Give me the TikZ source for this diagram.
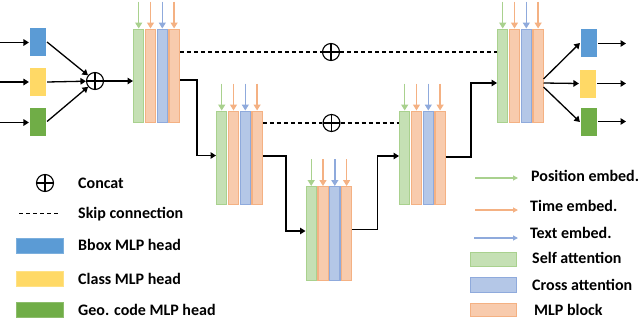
\documentclass[tikz,border=0pt]{standalone}
\usepackage{fontspec}
\setmainfont{Carlito}
\usetikzlibrary{arrows.meta,calc}
\definecolor{gfill}{HTML}{C5E0B4}
\definecolor{gline}{HTML}{A9D18E}
\definecolor{ofill}{HTML}{F8CBAD}
\definecolor{oline}{HTML}{F4B183}
\definecolor{bfill}{HTML}{B4C7E7}
\definecolor{bline}{HTML}{8FAADC}
\definecolor{hblue}{HTML}{5B9BD5}
\definecolor{hyellow}{HTML}{FFD966}
\definecolor{hgreen}{HTML}{70AD47}
\tikzset{
  strip/.style={draw, line width=1.2pt, minimum width=10.2pt, minimum height=93.5pt, inner sep=0pt, anchor=north west},
  emb/.style={line width=1.4pt, -{Triangle[length=6pt,width=7pt]}},
  flow/.style={line width=1.3pt, -{Triangle[length=5.5pt,width=6.5pt]}},
  skipline/.style={line width=1.2pt, dash pattern=on 4pt off 3pt},
  oplus/.style={circle, draw, line width=1.1pt, minimum size=17pt, inner sep=0pt,
    path picture={\draw[line width=1.1pt] (path picture bounding box.north) -- (path picture bounding box.south)
      (path picture bounding box.west) -- (path picture bounding box.east);}},
  headbox/.style={minimum width=17.5pt, minimum height=29pt, inner sep=0pt, draw=white, line width=0.6pt},
  legrect/.style={minimum width=47pt, minimum height=15pt, inner sep=0pt, line width=1pt, anchor=west},
  lab/.style={anchor=west, inner sep=0pt, font=\fontsize{16}{18}\selectfont\bfseries},
}
\newcommand{\tblock}[3]{%
  \node[strip, fill=gfill, draw=gline] (#1g) at (#2,#3) {};
  \node[strip, fill=ofill, draw=oline] (#1o) at (#2+11.8,#3) {};
  \node[strip, fill=bfill, draw=bline] (#1b) at (#2+23.6,#3) {};
  \node[strip, fill=ofill, draw=oline] (#1m) at (#2+35.4,#3) {};
  \draw[emb, gline] ($(#1g.north)+(0,-27)$) -- (#1g.north);
  \draw[emb, oline] ($(#1o.north)+(0,-27)$) -- (#1o.north);
  \draw[emb, bline] ($(#1b.north)+(0,-27)$) -- (#1b.north);
  \draw[emb, oline] ($(#1m.north)+(0,-27)$) -- (#1m.north);
}
\begin{document}
\begin{tikzpicture}[x=1pt,y=-1pt]
\useasboundingbox (0,0) rectangle (640,319);
% transformer blocks
\tblock{ba}{133}{28.5}
\tblock{bb}{216}{110.5}
\tblock{bc}{305.5}{186}
\tblock{bd}{399}{110.5}
\tblock{be}{497}{28.5}
% input heads
\node[headbox, fill=hblue] (in1) at (38,42) {};
\node[headbox, fill=hyellow] (in2) at (38,82) {};
\node[headbox, fill=hgreen] (in3) at (38,121.5) {};
\coordinate (s1) at (0,42.5);
\coordinate (s2) at (0,82);
\coordinate (s3) at (0,122.5);
\draw[flow] (s1) -- (in1.west |- s1);
\draw[flow] (s2) -- (in2.west |- s2);
\draw[flow] (s3) -- (in3.west |- s3);
\node[oplus] (cat) at (95,81) {};
\draw[flow] (in1.east) -- (cat);
\draw[flow] (in2.east) -- (cat);
\draw[flow] (in3.east) -- (cat);
\draw[flow] (cat.east) -- (cat.east -| bag.west);
% down/up path
\coordinate (c1) at (197,80);
\coordinate (c2) at (197,155.5);
\draw[flow] (bam.east |- c1) -- (c1) -- (c2) -- (c2 -| bbg.west);
\coordinate (c3) at (286,156);
\coordinate (c4) at (286,231);
\draw[flow] (bbm.east |- c3) -- (c3) -- (c4) -- (c4 -| bcg.west);
\coordinate (c5) at (377.5,229.5);
\coordinate (c6) at (377.5,156);
\draw[flow] (bcm.east |- c5) -- (c5) -- (c6) -- (c6 -| bdg.west);
\coordinate (c7) at (471,157);
\coordinate (c8) at (471,83);
\draw[flow] (bdm.east |- c7) -- (c7) -- (c8) -- (c8 -| beg.west);
% skip connections
\node[oplus] (sk1) at (331,52) {};
\node[oplus] (sk2) at (331.5,123) {};
\draw[skipline] (bam.east |- sk1) -- (sk1.west);
\draw[skipline] (sk1.east) -- (sk1.east -| beg.west);
\draw[skipline] (bbm.east |- sk2) -- (sk2.west);
\draw[skipline] (sk2.east) -- (sk2.east -| bdg.west);
% output heads
\node[headbox, fill=hblue] (out1) at (589,43) {};
\node[headbox, fill=hyellow] (out2) at (588,83.5) {};
\node[headbox, fill=hgreen] (out3) at (589,122) {};
\coordinate (o0) at (543.5,79);
\coordinate (o1) at (543.5,83);
\coordinate (o2) at (543.5,87);
\draw[flow] (o0) -- (out1.west);
\draw[flow] (o1) -- (out2.west);
\draw[flow] (o2) -- (out3.west);
\coordinate (e1) at (626,43.5);
\coordinate (e2) at (626,83.5);
\coordinate (e3) at (626,121.5);
\draw[flow] (out1.east |- e1) -- (e1);
\draw[flow] (out2.east |- e2) -- (e2);
\draw[flow] (out3.east |- e3) -- (e3);
% left legend
\node[oplus, minimum size=17pt] (lcat) at (45,183) {};
\node[lab] (tcat) at (78,183) {Concat};
\coordinate (ls1) at (19,213);
\coordinate (ls2) at (60,213);
\draw[line width=1pt, dash pattern=on 4pt off 3pt] (ls1) -- (ls2);
\node[lab] (tskip) at (78,214.5) {Skip connection};
\node[legrect, fill=hblue, draw=hblue!80!white] (lbb) at (16,246) {};
\node[lab] (tbb) at (78,245) {Bbox MLP head};
\node[legrect, fill=hyellow, draw=hyellow!80!white] (lcl) at (16,279) {};
\node[lab] (tcl) at (78,278.5) {Class MLP head};
\node[legrect, fill=hgreen, draw=hgreen!80!white] (lgc) at (16,309.5) {};
\node[lab] (tgc) at (78,310) {Geo. code MLP head};
% right legend
\coordinate (pa1) at (475,178);
\coordinate (pa2) at (518,178);
\draw[line width=1.1pt, gline, -{Triangle[length=5pt,width=5pt]}] (pa1) -- (pa2);
\node[lab] (tpos) at (531,176) {Position embed.};
\coordinate (ta1) at (475,210);
\coordinate (ta2) at (518,210);
\draw[line width=1.1pt, oline, -{Triangle[length=5pt,width=5pt]}] (ta1) -- (ta2);
\node[lab] (ttime) at (530,205.5) {Time embed.};
\coordinate (xa1) at (474,238);
\coordinate (xa2) at (518,238);
\draw[line width=1.1pt, bline, -{Triangle[length=5pt,width=5pt]}] (xa1) -- (xa2);
\node[lab] (ttext) at (530,233) {Text embed.};
\node[legrect, fill=gfill, draw=gline, minimum width=46pt, minimum height=14pt] (lsa) at (470,259) {};
\node[lab] (tsa) at (532,258) {Self attention};
\node[legrect, fill=bfill, draw=bline, minimum width=46pt, minimum height=15pt] (lca) at (470,284.5) {};
\node[lab] (tca) at (532,285) {Cross attention};
\node[legrect, fill=ofill, draw=oline, minimum width=46pt, minimum height=13pt] (lmb) at (470,309.5) {};
\node[lab] (tmb) at (534,310) {MLP block};
\end{tikzpicture}
\end{document}
